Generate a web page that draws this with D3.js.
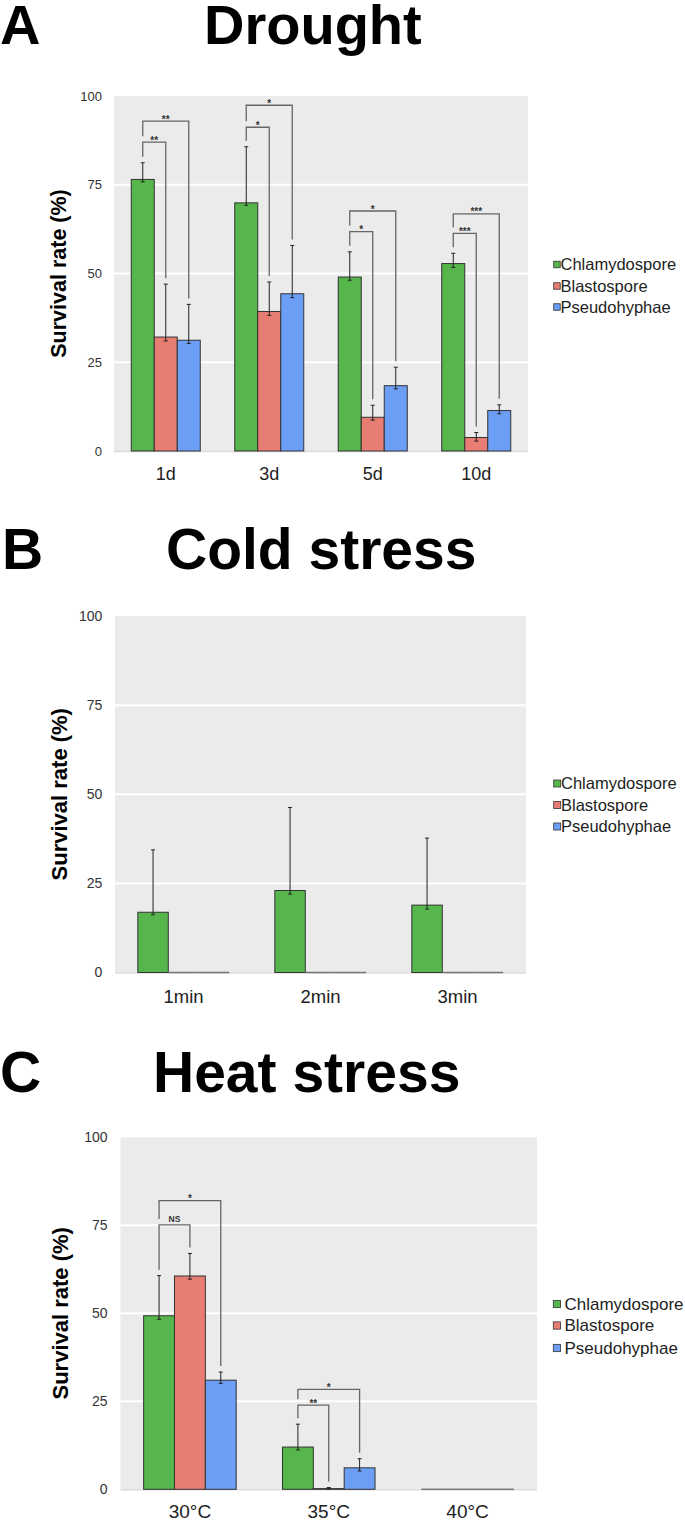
<!DOCTYPE html>
<html>
<head>
<meta charset="utf-8">
<script src="https://cdn.jsdelivr.net/npm/d3@7"></script>
<style>
  html, body { margin: 0; padding: 0; background: #fff; }
  svg { display: block; font-family: "Liberation Sans", Arial, sans-serif; }
</style>
</head>
<body>
<svg id="chart" width="685" height="1520"></svg>
<script>
// ---------- DATA ----------
const seriesNames = ["Chlamydospore", "Blastospore", "Pseudohyphae"];
const seriesColors = ["#56b64b", "#e87d73", "#6d9ef6"];
const yTicks = [0, 25, 50, 75, 100];

// A: Drought
const droughtCategories = ["1d", "3d", "5d", "10d"];
const droughtChlamydospore = [76.5, 69.9, 49.0, 52.8];
const droughtChlamydosporeHigh = [81.2, 85.7, 56.1, 55.7];
const droughtChlamydosporeLow = [75.8, 69.2, 48.1, 51.7];
const droughtBlastospore = [32.1, 39.3, 9.5, 3.8];
const droughtBlastosporeHigh = [47.0, 47.6, 12.9, 5.2];
const droughtBlastosporeLow = [31.0, 38.2, 8.7, 2.8];
const droughtPseudohyphae = [31.2, 44.3, 18.4, 11.4];
const droughtPseudohyphaeHigh = [41.3, 57.9, 23.6, 13.0];
const droughtPseudohyphaeLow = [30.3, 43.2, 17.5, 10.5];
const droughtBrackets = [
  { group: "1d", to: 1, level: 87.0, label: "**" },
  { group: "1d", to: 2, level: 92.9, label: "**" },
  { group: "3d", to: 1, level: 91.2, label: "*" },
  { group: "3d", to: 2, level: 97.4, label: "*" },
  { group: "5d", to: 1, level: 61.8, label: "*" },
  { group: "5d", to: 2, level: 67.6, label: "*" },
  { group: "10d", to: 1, level: 61.3, label: "***" },
  { group: "10d", to: 2, level: 66.8, label: "***" }
];

// B: Cold stress
const coldCategories = ["1min", "2min", "3min"];
const coldChlamydospore = [16.9, 23.0, 18.9];
const coldChlamydosporeHigh = [34.4, 46.3, 37.7];
const coldChlamydosporeLow = [16.2, 22.0, 17.8];
const coldBlastospore = [0, 0, 0];
const coldBlastosporeHigh = [0, 0, 0];
const coldBlastosporeLow = [0, 0, 0];
const coldPseudohyphae = [0, 0, 0];
const coldPseudohyphaeHigh = [0, 0, 0];
const coldPseudohyphaeLow = [0, 0, 0];
const coldBrackets = [];

// C: Heat stress
const heatCategories = ["30°C", "35°C", "40°C"];
const heatChlamydospore = [49.3, 12.0, 0];
const heatChlamydosporeHigh = [60.7, 18.5, 0];
const heatChlamydosporeLow = [48.3, 11.2, 0];
const heatBlastospore = [60.6, 0.2, 0];
const heatBlastosporeHigh = [67.0, 0.5, 0];
const heatBlastosporeLow = [59.7, 0.1, 0];
const heatPseudohyphae = [31.0, 6.1, 0];
const heatPseudohyphaeHigh = [33.3, 8.7, 0];
const heatPseudohyphaeLow = [30.1, 5.2, 0];
const heatBrackets = [
  { group: "30°C", to: 1, level: 75.1, label: "NS" },
  { group: "30°C", to: 2, level: 82.0, label: "*" },
  { group: "35°C", to: 1, level: 23.9, label: "**" },
  { group: "35°C", to: 2, level: 28.4, label: "*" }
];

// ---------- LAYOUT ----------
const panels = [
  {
    letter: "A", title: "Drought", letterX: 0, titleX: 204, titleY: 43.5, titleFont: 56,
    cats: droughtCategories,
    values: [droughtChlamydospore, droughtBlastospore, droughtPseudohyphae],
    highs: [droughtChlamydosporeHigh, droughtBlastosporeHigh, droughtPseudohyphaeHigh],
    lows: [droughtChlamydosporeLow, droughtBlastosporeLow, droughtPseudohyphaeLow],
    brackets: droughtBrackets,
    x0: 114, x1: 528, yBottom: 451, yTop: 96,
    yTickFont: 13, yTickRight: 102, xTickFont: 18, xTickY: 480,
    axisTitleFont: 21.5, axisTitleX: 59,
    legendX: 553.7, legendTextX: 560.5, legendY: [270, 291.5, 312.5], legendFont: 16.5, swatch: 6.5
  },
  {
    letter: "B", title: "Cold stress", letterX: 2, titleX: 166, titleY: 569.3, titleFont: 57,
    cats: coldCategories,
    values: [coldChlamydospore, coldBlastospore, coldPseudohyphae],
    highs: [coldChlamydosporeHigh, coldBlastosporeHigh, coldPseudohyphaeHigh],
    lows: [coldChlamydosporeLow, coldBlastosporeLow, coldPseudohyphaeLow],
    brackets: coldBrackets,
    x0: 115, x1: 526, yBottom: 972.5, yTop: 616,
    yTickFont: 14, yTickRight: 102.4, xTickFont: 18.5, xTickY: 1003,
    axisTitleFont: 22, axisTitleX: 59,
    legendX: 553.7, legendTextX: 561, legendY: [789, 810.5, 832], legendFont: 16.5, swatch: 7
  },
  {
    letter: "C", title: "Heat stress", letterX: 0, titleX: 153, titleY: 1091.7, titleFont: 57,
    cats: heatCategories,
    values: [heatChlamydospore, heatBlastospore, heatPseudohyphae],
    highs: [heatChlamydosporeHigh, heatBlastosporeHigh, heatPseudohyphaeHigh],
    lows: [heatChlamydosporeLow, heatBlastosporeLow, heatPseudohyphaeLow],
    brackets: heatBrackets,
    x0: 120.5, x1: 537, yBottom: 1489.3, yTop: 1137.3,
    yTickFont: 14, yTickRight: 107.5, xTickFont: 19, xTickY: 1517.5,
    axisTitleFont: 22, axisTitleX: 60,
    legendX: 553.3, legendTextX: 564.5, legendY: [1309.5, 1331, 1353.5], legendFont: 17, swatch: 7.3
  }
];

const svg = d3.select("#chart");

panels.forEach(p => {
  const g = svg.append("g");

  // Panel letter and title
  g.append("text").attr("x", p.letterX).attr("y", p.titleY)
    .attr("font-size", p.titleFont).attr("font-weight", "bold").attr("fill", "#000").text(p.letter);
  g.append("text").attr("x", p.titleX).attr("y", p.titleY)
    .attr("font-size", p.titleFont).attr("font-weight", "bold").attr("fill", "#000").text(p.title);

  const y = d3.scaleLinear().domain([0, 100]).range([p.yBottom, p.yTop]);
  const x = d3.scaleBand().domain(p.cats).range([p.x0, p.x1]).paddingInner(1 / 3).paddingOuter(1 / 6);
  const xs = d3.scaleBand().domain(d3.range(seriesNames.length)).range([0, x.bandwidth()]);

  // Panel background
  g.append("rect").attr("x", p.x0).attr("y", y(100)).attr("width", p.x1 - p.x0)
    .attr("height", y(0) - y(100)).attr("fill", "#ebebeb");

  // Grid lines
  g.selectAll(".grid").data(yTicks.filter(t => t > 0 && t < 100)).join("line")
    .attr("x1", p.x0).attr("x2", p.x1).attr("y1", d => y(d)).attr("y2", d => y(d))
    .attr("stroke", "#ffffff").attr("stroke-width", 2);
  g.append("line").attr("x1", p.x0).attr("x2", p.x1).attr("y1", y(0) + 0.5).attr("y2", y(0) + 0.5)
    .attr("stroke", "#dcdcdc").attr("stroke-width", 1.5);

  // Y axis (labels only)
  const yAxis = d3.axisLeft(y).tickValues(yTicks).tickSize(0).tickPadding(0);
  const yAx = g.append("g").attr("transform", `translate(${p.yTickRight},0)`).call(yAxis);
  yAx.select(".domain").remove();
  yAx.selectAll("text").attr("font-size", p.yTickFont).attr("fill", "#333")
    .attr("font-family", "Liberation Sans, Arial, sans-serif");

  // X axis (labels only)
  const xAxis = d3.axisBottom(x).tickSize(0).tickPadding(0);
  const xAx = g.append("g").attr("transform", `translate(0,${p.xTickY})`).call(xAxis);
  xAx.select(".domain").remove();
  xAx.selectAll("text").attr("dy", 0).attr("y", 0).attr("font-size", p.xTickFont).attr("fill", "#222")
    .attr("font-family", "Liberation Sans, Arial, sans-serif");

  // Y axis title
  g.append("text")
    .attr("transform", `translate(${p.axisTitleX},${(y(0) + y(100)) / 2}) rotate(-90)`)
    .attr("text-anchor", "middle").attr("dominant-baseline", "central")
    .attr("font-size", p.axisTitleFont).attr("font-weight", "bold").attr("fill", "#000")
    .text("Survival rate (%)");

  // Bars
  const barData = [];
  p.cats.forEach((c, ci) => {
    seriesNames.forEach((s, si) => {
      barData.push({ cat: c, si, v: p.values[si][ci], hi: p.highs[si][ci], lo: p.lows[si][ci] });
    });
  });
  const cx = d => x(d.cat) + xs(d.si) + xs.bandwidth() / 2;

  g.selectAll(".bar").data(barData.filter(d => d.v > 0)).join("rect")
    .attr("x", d => x(d.cat) + xs(d.si))
    .attr("y", d => y(d.v))
    .attr("width", xs.bandwidth())
    .attr("height", d => y(0) - y(d.v))
    .attr("fill", d => seriesColors[d.si])
    .attr("stroke", "#333")
    .attr("stroke-width", 1);

  // Zero-valued bars are drawn as flat outlines on the baseline
  g.selectAll(".zero").data(barData.filter(d => d.v <= 0)).join("line")
    .attr("x1", d => x(d.cat) + xs(d.si))
    .attr("x2", d => x(d.cat) + xs(d.si) + xs.bandwidth())
    .attr("y1", y(0)).attr("y2", y(0))
    .attr("stroke", "#777").attr("stroke-width", 1.5);

  // Error bars
  const errData = barData.filter(d => d.hi > d.lo);
  g.selectAll(".err").data(errData).join("line")
    .attr("x1", cx).attr("x2", cx).attr("y1", d => y(d.hi)).attr("y2", d => y(d.lo))
    .attr("stroke", "#222").attr("stroke-width", 1);
  g.selectAll(".capH").data(errData).join("line")
    .attr("x1", d => cx(d) - 2).attr("x2", d => cx(d) + 2).attr("y1", d => y(d.hi)).attr("y2", d => y(d.hi))
    .attr("stroke", "#222").attr("stroke-width", 1);
  g.selectAll(".capL").data(errData).join("line")
    .attr("x1", d => cx(d) - 2).attr("x2", d => cx(d) + 2).attr("y1", d => y(d.lo)).attr("y2", d => y(d.lo))
    .attr("stroke", "#222").attr("stroke-width", 1);

  // Significance brackets
  p.brackets.forEach(b => {
    const ci = p.cats.indexOf(b.group);
    const xl = x(b.group) + xs(0) + xs.bandwidth() / 2;
    const xr = x(b.group) + xs(b.to) + xs.bandwidth() / 2;
    const yb = y(b.level);
    const lower = p.brackets.filter(o => o.group === b.group && o.level < b.level);
    const leftEnd = lower.length ? y(d3.max(lower, o => o.level)) - 6 : y(p.highs[0][ci]) - 6;
    const rightEnd = y(p.highs[b.to][ci]) - 6;
    g.append("path")
      .attr("d", `M${xl},${leftEnd}V${yb}H${xr}V${rightEnd}`)
      .attr("fill", "none").attr("stroke", "#666").attr("stroke-width", 1.3);
    const isAst = b.label.indexOf("*") >= 0;
    g.append("text").attr("x", (xl + xr) / 2).attr("y", isAst ? yb + 1.5 : yb - 3)
      .attr("text-anchor", "middle").attr("font-size", isAst ? 10 : 8.5)
      .attr("font-weight", "bold").attr("fill", "#333").text(b.label);
  });

  // Legend
  seriesNames.forEach((s, si) => {
    const by = p.legendY[si];
    g.append("rect").attr("x", p.legendX).attr("y", by - 5.5 - p.swatch / 2)
      .attr("width", p.swatch).attr("height", p.swatch)
      .attr("fill", seriesColors[si]).attr("stroke", "#333").attr("stroke-width", 0.8);
    g.append("text").attr("x", p.legendTextX).attr("y", by)
      .attr("font-size", p.legendFont).attr("fill", "#222").text(s);
  });
});
</script>
</body>
</html>
